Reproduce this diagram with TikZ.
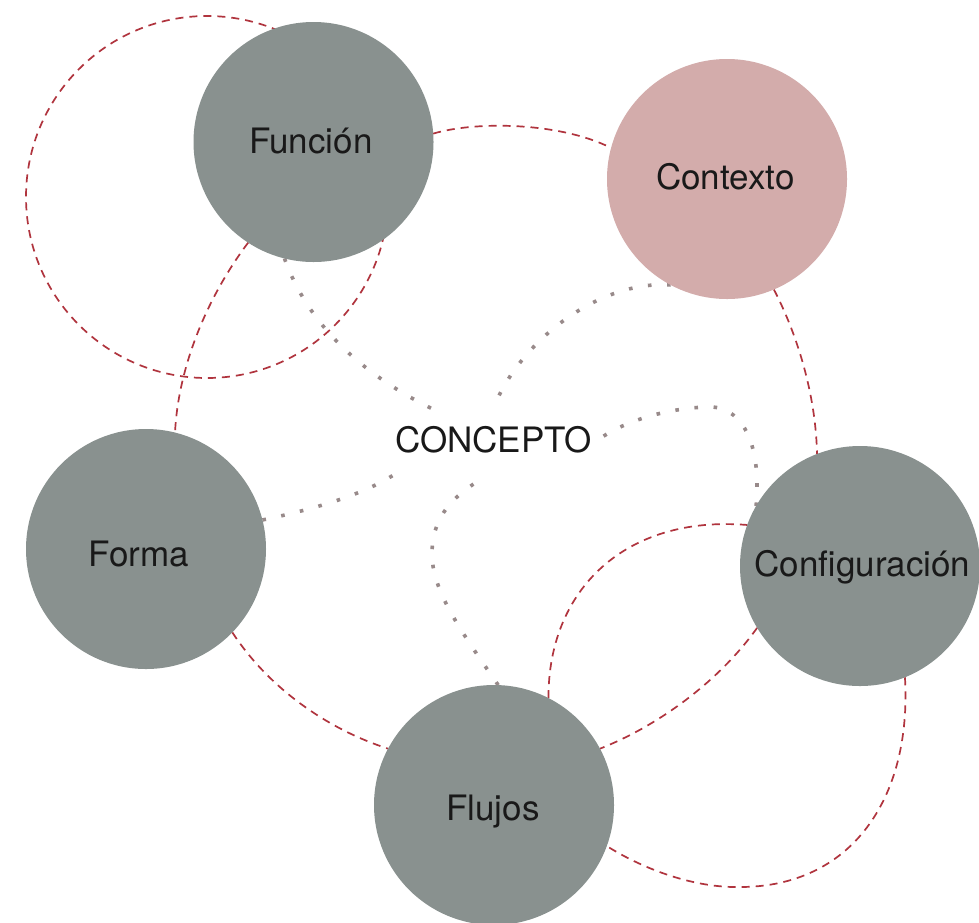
\documentclass[tikz,border=0pt]{standalone}
\usepackage{fontspec}
\setmainfont{TeX Gyre Heros}
\usetikzlibrary{backgrounds}
\definecolor{circgray}{RGB}{137,145,143}
\definecolor{circpink}{RGB}{211,172,171}
\definecolor{linkred}{RGB}{176,52,62}
\definecolor{dotgray}{RGB}{152,138,138}
\begin{document}
\begin{tikzpicture}[x=1pt,y=-1pt,
  bubble/.style={circle,minimum size=240pt,inner sep=0pt,outer sep=0pt,fill=circgray},
  lbl/.style={anchor=base,font=\fontsize{35}{40}\selectfont,text=black!90,inner sep=0pt},
  link/.style={draw=linkred,line width=1.7pt,dash pattern=on 8pt off 6pt},
  dotlink/.style={draw=dotgray,line width=3.6pt,dash pattern=on 3.6pt off 15.6pt}]
\useasboundingbox (0,0) rectangle (979,922);
% circles
\node[bubble] (fun) at (313.5,142) {};
\node[bubble,fill=circpink] (ctx) at (727,179) {};
\node[bubble] (forma) at (146,549) {};
\node[bubble] (config) at (860,566) {};
\node[bubble] (flu) at (494,805) {};
% labels
\node[lbl] (tfun) at (311,153) {Función};
\node[lbl] (tctx) at (725.3,189.3) {Contexto};
\node[lbl] (tforma) at (139,566.7) {Forma};
\node[lbl] (tconfig) at (862.5,576) {Configuración};
\node[lbl] (tflu) at (493,820) {Flujos};
\node[lbl] (concept) at (493.5,452) {CONCEPTO};
% ends of dotted links at the concept
\coordinate (c1) at (441,413);
\coordinate (c2) at (493,409);
\coordinate (c3) at (483,478);
\coordinate (c4) at (398,472);
\coordinate (c5) at (598,440);
\coordinate (loopc) at (207,197);
\begin{pgfonlayer}{background}
\fill[white] (0,0) rectangle (979,922);
% dashed links
\draw[link] (loopc) circle[radius=181pt];
\draw[link] (fun.4) .. controls (475,121) and (560,122) .. (ctx.165);
\draw[link] (fun.-123) .. controls (205,300) and (178,370) .. (forma.76);
\draw[link] (ctx.-67) .. controls (800,340) and (816,400) .. (config.111);
\draw[link] (forma.-44) .. controls (270,690) and (330,730) .. (flu.152);
\draw[link] (config.211) .. controls (720,680) and (660,725) .. (flu.28);
\draw[link] (flu.63) .. controls (548,590) and (625,515) .. (config.160);
\draw[link] (config.-68) .. controls (912,800) and (850,887) .. (740,887)
  .. controls (695,888) and (645,870) .. (flu.-20);
% dotted links to the concept
\draw[dotlink] (fun.-104) .. controls (310,330) and (370,380) .. (c1);
\draw[dotlink] (ctx.-118) .. controls (600,280) and (520,340) .. (c2);
\draw[dotlink] (flu.88) .. controls (460,630) and (432,590) .. (432,554)
  .. controls (432,515) and (455,495) .. (c3);
\draw[dotlink] (forma.14) .. controls (310,510) and (365,495) .. (c4);
\draw[dotlink] (config.150) .. controls (762,440) and (740,405) .. (707,407)
  .. controls (670,408) and (625,420) .. (c5);
\end{pgfonlayer}
\end{tikzpicture}
\end{document}
